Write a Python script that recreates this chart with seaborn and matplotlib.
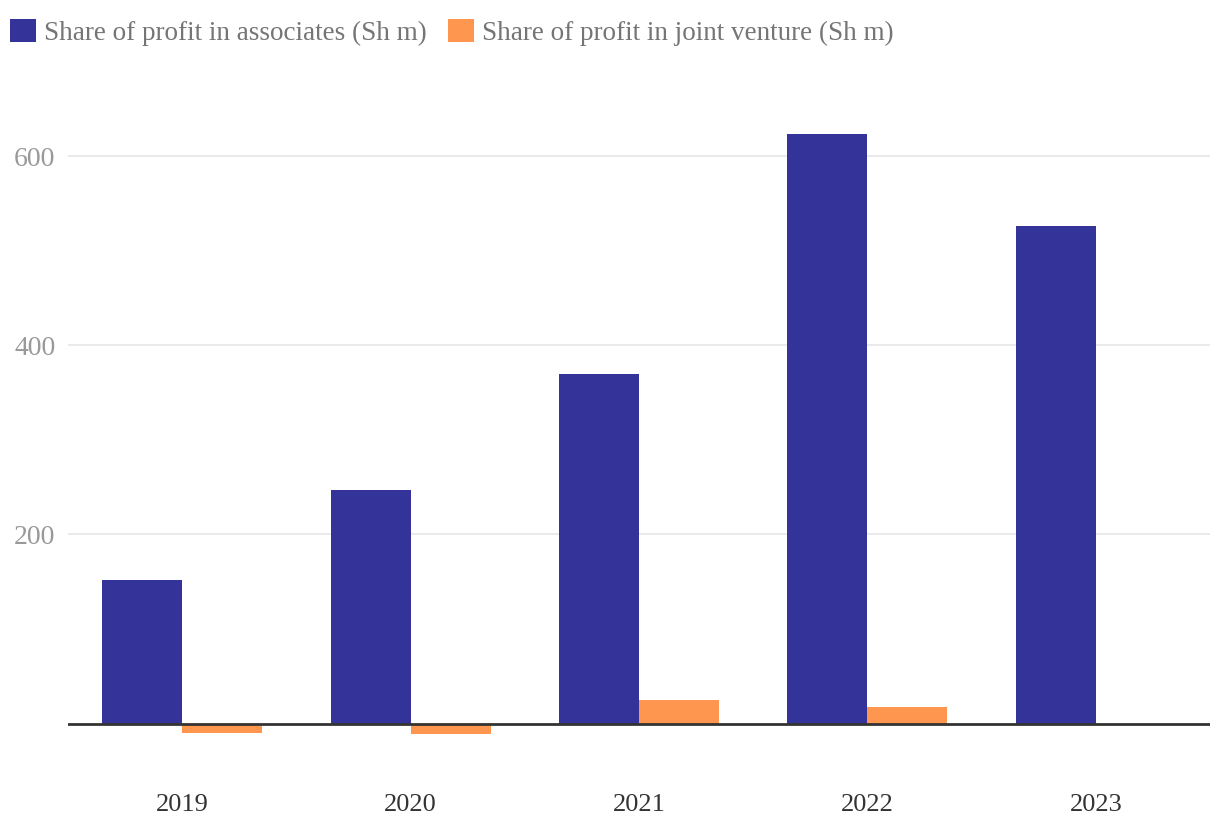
import matplotlib
matplotlib.use("Agg")
import matplotlib.pyplot as plt
import seaborn as sns
import pandas as pd
from matplotlib.patches import Patch

years = ["2019", "2020", "2021", "2022", "2023"]
associates = [152, 247, 369, 623, 526]
joint_venture = [-10, -11, 25, 17.5, 0]
series_names = ["Share of profit in associates (Sh m)", "Share of profit in joint venture (Sh m)"]
colors = ["#333399", "#FF9650"]

df = pd.DataFrame({
    "year": years * 2,
    "value": associates + joint_venture,
    "series": [series_names[0]] * len(years) + [series_names[1]] * len(years),
})

sns.set_theme(style="white")
plt.rcParams["font.family"] = ["Liberation Serif", "DejaVu Serif"]

W, H = 1220, 834
fig = plt.figure(figsize=(W / 100, H / 100), dpi=100)
ymin, ymax = -30, 690
pxu = 567.5 / 600
top_px = 723.5 - ymax * pxu
bot_px = 723.5 - ymin * pxu
ax = fig.add_axes([68 / W, 1 - bot_px / H, (1210 - 68) / W, (bot_px - top_px) / H])

sns.barplot(data=df, x="year", y="value", hue="series", palette=colors,
            width=0.7, saturation=1, ax=ax, legend=False, errorbar=None,
            linewidth=0, edgecolor="none")

ax.set_xlim(-0.5, 4.5)
ax.set_ylim(ymin, ymax)
ax.set_yticks([200, 400, 600])
ax.yaxis.grid(True, color="#e6e6e6", linewidth=1.2)
ax.set_axisbelow(True)
ax.axhline(0, color="#333333", linewidth=2, zorder=5)
for s in ax.spines.values():
    s.set_visible(False)
ax.set_xlabel("")
ax.set_ylabel("")
ax.tick_params(axis="y", length=0, pad=9, labelsize=20, labelcolor="#999999")
ax.tick_params(axis="x", length=0, pad=30, labelsize=19, labelcolor="#333333")

handles = [Patch(facecolor=c, edgecolor="none") for c in colors]
leg = fig.legend(handles, series_names, loc="upper left",
                 bbox_to_anchor=(10 / W, 1 - 19 / H),
                 ncol=2, frameon=False, fontsize=19.5, handlelength=0.95, handleheight=0.95,
                 handletextpad=0.3, columnspacing=0.8, borderaxespad=0, borderpad=0)
for t in leg.get_texts():
    t.set_color("#757575")

fig.savefig("out.png", dpi=100)
